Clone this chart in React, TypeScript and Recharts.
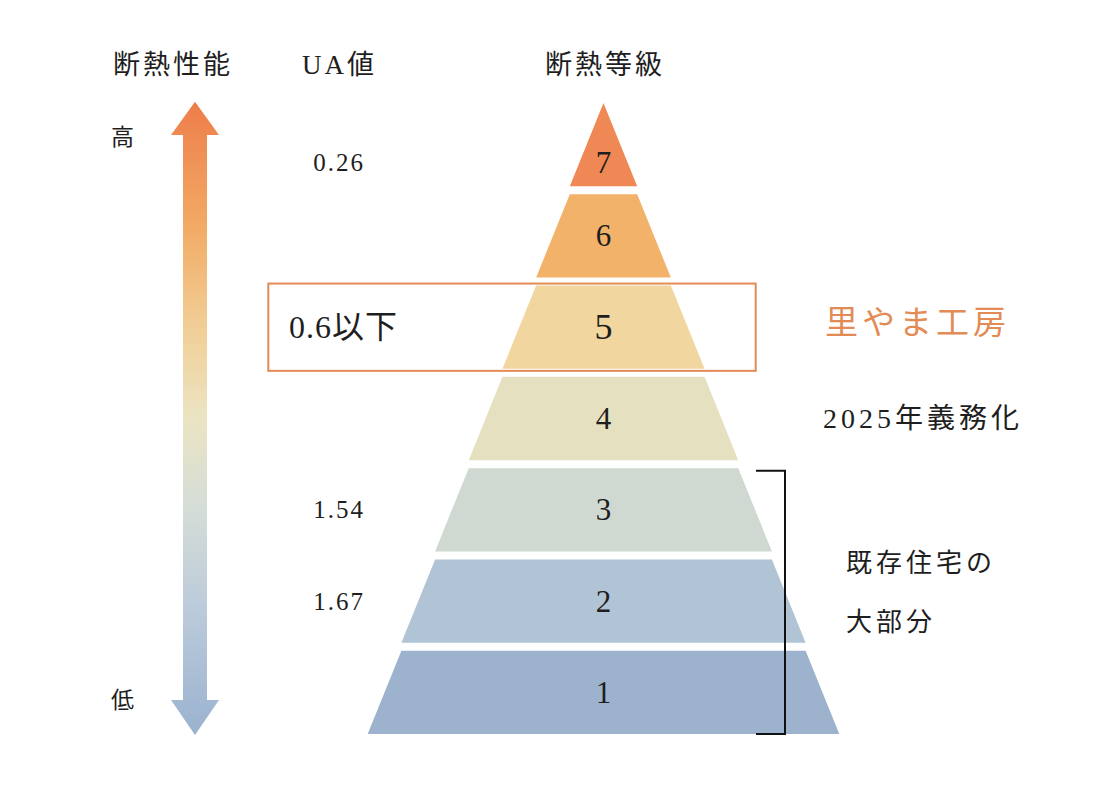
import { FunnelChart, Funnel, Customized } from 'recharts';

// levels listed bottom (1) to top (7)
const levels = [1, 2, 3, 4, 5, 6, 7];
const levelWidths = [7, 6, 5, 4, 3, 2, 1];
const uaValues = ['', '1.67', '1.54', '', '0.6以下', '', '0.26'];
const levelColors = ['#9db2cc', '#b1c4d6', '#cfd9d1', '#e5e0c0', '#f2d6a0', '#f3b26a', '#ef8854'];
const sideNotes = ['', '', '', '2025年義務化', '里やま工房', '', ''];
const highlightLevel = 5;

const SERIF = "'Liberation Serif', 'DejaVu Serif', 'Noto Sans CJK JP', serif";
const GAP = 8;
const INK = '#1e1e1e';
const ACCENT = '#e38b55';

const data = levels.map((level, i) => ({
  level,
  name: String(level),
  width: levelWidths[i],
  ua: uaValues[i],
  color: levelColors[i],
  note: sideNotes[i],
}));

function Layer(props: any) {
  const { x, y, upperWidth, lowerWidth, height } = props;
  const p = props.payload ?? props;
  const h = height - GAP;
  const cx = x + upperWidth / 2;
  const pts = [
    [cx - upperWidth / 2, y],
    [cx + upperWidth / 2, y],
    [cx + lowerWidth / 2, y + h],
    [cx - lowerWidth / 2, y + h],
  ]
    .map((q) => q.join(','))
    .join(' ');
  const hi = p.level === highlightLevel;
  const labelY = upperWidth === 0 ? y + h * 0.72 : y + h / 2;

  return (
    <g>
      {hi && (
        <rect x={260.3} y={y - 2} width={487.4} height={h + 4} fill="none" stroke={ACCENT} strokeWidth={2} />
      )}
      <polygon points={pts} fill={p.color} />
      <text
        x={cx}
        y={labelY}
        textAnchor="middle"
        dominantBaseline="central"
        fontSize={hi ? 36 : 31}
        fontFamily={SERIF}
        fill={INK}
      >
        {p.level}
      </text>
      {p.ua && (
        <text
          x={hi ? 281 : 331}
          y={labelY}
          textAnchor={hi ? 'start' : 'middle'}
          dominantBaseline="central"
          fontSize={hi ? 32 : 25}
          letterSpacing={hi ? 1 : 2}
          fontFamily={SERIF}
          fill={INK}
        >
          {p.ua}
        </text>
      )}
      {p.note && (
        <text
          x={hi ? 817 : 815}
          y={hi ? labelY - 4 : labelY}
          dominantBaseline="central"
          fontSize={hi ? 33 : 28}
          letterSpacing={4}
          fontFamily={SERIF}
          fill={hi ? ACCENT : INK}
        >
          {p.note}
        </text>
      )}
    </g>
  );
}

function Decorations() {
  return (
    <g fontFamily={SERIF} fill={INK}>
      <defs>
        <linearGradient id="perf" x1="0" y1="0" x2="0" y2="1">
          <stop offset="0" stopColor="#ee7d4a" />
          <stop offset="0.2" stopColor="#f2ab66" />
          <stop offset="0.36" stopColor="#f1cf98" />
          <stop offset="0.5" stopColor="#ebe4c2" />
          <stop offset="0.63" stopColor="#d6ded6" />
          <stop offset="0.8" stopColor="#bccbdb" />
          <stop offset="1" stopColor="#9ab2cf" />
        </linearGradient>
      </defs>
      <text x={105} y={57} dominantBaseline="central" fontSize={27} letterSpacing={3}>断熱性能</text>
      <text x={294} y={57} dominantBaseline="central" fontSize={27} letterSpacing={3}>UA値</text>
      <text x={537} y={57} dominantBaseline="central" fontSize={27} letterSpacing={3}>断熱等級</text>
      <text x={103} y={129} dominantBaseline="central" fontSize={23}>高</text>
      <text x={103} y={692} dominantBaseline="central" fontSize={23}>低</text>
      <polygon
        points="187,93.7 211,127 199,127 199,692 211,692 187,727 163,692 175,692 175,127 163,127"
        fill="url(#perf)"
      />
      <path d="M748,462.7 H777 V726 H748" fill="none" stroke="#111" strokeWidth={2} />
      <text x={838} y={555} dominantBaseline="central" fontSize={26} letterSpacing={4}>既存住宅の</text>
      <text x={838} y={614} dominantBaseline="central" fontSize={26} letterSpacing={4}>大部分</text>
    </g>
  );
}

export default function App() {
  return (
    <FunnelChart
      width={1094}
      height={774}
      margin={{ top: 95, left: 359.7, right: 262.7, bottom: 40 }}
    >
      <Funnel
        data={data}
        dataKey="width"
        nameKey="name"
        reversed
        isAnimationActive={false}
        shape={(props: any) => <Layer {...props} />}
      />
      <Customized component={Decorations} />
    </FunnelChart>
  );
}
